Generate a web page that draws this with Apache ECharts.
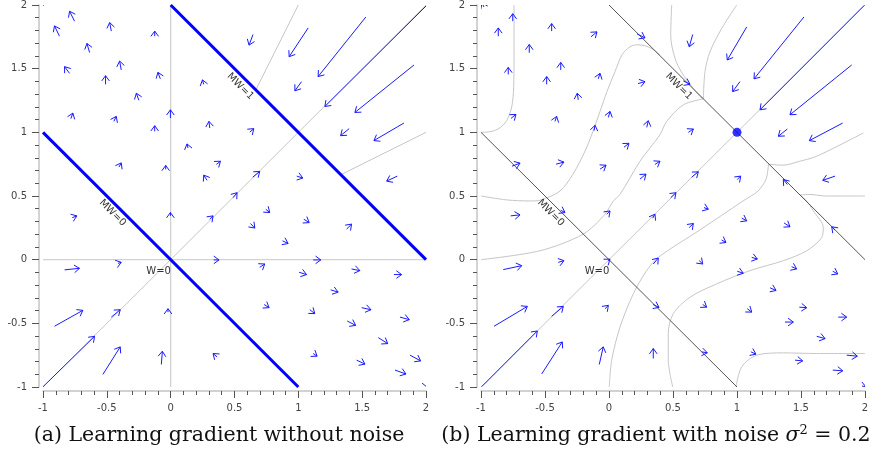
<!DOCTYPE html>
<html>
<head>
<meta charset="utf-8">
<script src="https://cdn.jsdelivr.net/npm/echarts@6/dist/echarts.min.js"></script>
<style>
  html, body { margin: 0; padding: 0; background: #fff; }
  #chart { width: 876px; height: 455px; }
</style>
</head>
<body>
<div id="chart"></div>
<script>
// Axis range shared by both panels
const AXIS_MIN = -1;
const AXIS_MAX = 2;
const TICK_STEP = 0.5;

// Gradient arrows without noise: [x0, y0, x1, y1] (tail -> tip)
const arrowsNoNoise = [
  [-0.753,1.873,-0.792,1.951], [-0.871,1.755,-0.910,1.836], [-0.465,1.795,-0.478,1.862],
  [-0.125,1.755,-0.125,1.795], [-0.635,1.627,-0.656,1.698], [-0.792,1.463,-0.831,1.516],
  [-0.387,1.490,-0.400,1.560], [-0.510,1.377,-0.510,1.445], [-0.081,1.420,-0.100,1.471],
  [-0.249,1.252,-0.269,1.307], [0.259,1.377,0.249,1.412], [-0.782,1.107,-0.766,1.151],
  [-0.445,1.086,-0.426,1.125], [-0.002,1.112,-0.002,1.177], [-0.125,1.008,-0.125,1.052],
  [0.306,1.034,0.300,1.086], [0.136,0.877,0.128,0.909], [-0.405,0.727,-0.387,0.760],
  [-0.039,0.709,-0.039,0.740], [0.285,0.623,0.259,0.664], [0.358,0.748,0.390,0.773],
  [0.645,1.768,0.614,1.685], [1.077,1.820,0.928,1.594], [1.529,1.906,1.155,1.438],
  [2.000,1.992,1.208,1.203], [1.025,1.398,0.973,1.326], [1.906,1.529,1.443,1.156],
  [1.398,1.029,1.331,0.974], [1.827,1.073,1.592,0.935], [1.775,0.656,1.692,0.617],
  [0.620,1.002,0.651,1.029], [0.643,0.648,0.698,0.693], [0.988,0.656,1.035,0.641],
  [0.489,0.487,0.520,0.526], [-0.771,0.330,-0.735,0.344], [-0.002,0.344,-0.002,0.370],
  [0.306,0.318,0.332,0.344], [-0.831,-0.080,-0.714,-0.068], [-0.413,-0.029,-0.387,-0.021],
  [0.337,-0.002,0.379,-0.002], [-0.910,-0.523,-0.688,-0.398], [-0.465,-0.451,-0.395,-0.393],
  [-0.021,-0.412,-0.021,-0.385], [-1.000,-0.998,-0.596,-0.602], [-0.531,-0.901,-0.395,-0.685],
  [-0.073,-0.823,-0.065,-0.719], [0.363,-0.763,0.332,-0.737], [0.745,0.396,0.776,0.370],
  [0.625,0.284,0.659,0.248], [1.043,0.318,1.085,0.291], [1.378,0.240,1.417,0.279],
  [0.876,0.148,0.920,0.127], [0.698,-0.060,0.737,-0.034], [1.116,-0.002,1.176,-0.002],
  [1.006,-0.099,1.064,-0.117], [1.417,-0.073,1.482,-0.086], [1.749,-0.117,1.809,-0.117],
  [1.253,-0.237,1.312,-0.255], [0.732,-0.352,0.771,-0.377], [1.090,-0.393,1.129,-0.424],
  [1.496,-0.377,1.569,-0.393], [1.383,-0.482,1.449,-0.516], [1.796,-0.451,1.869,-0.471],
  [1.626,-0.612,1.700,-0.659], [1.116,-0.737,1.147,-0.758], [1.456,-0.789,1.522,-0.820],
  [1.875,-0.750,1.958,-0.795], [1.757,-0.867,1.843,-0.898], [1.969,-0.969,2.016,-1.008],
  [-0.996,1.992,-1.020,2.020]
];

// Gradient arrows with noise sigma^2 = 0.2: [x0, y0, x1, y1]
const arrowsNoise = [
  [-0.977,1.984,-0.992,2.016], [-0.752,1.873,-0.752,1.932], [-0.865,1.755,-0.865,1.820],
  [-0.448,1.795,-0.448,1.854], [-0.141,1.750,-0.094,1.789], [-0.623,1.625,-0.623,1.690],
  [-0.787,1.455,-0.787,1.510], [-0.377,1.490,-0.377,1.549], [-0.487,1.377,-0.487,1.438],
  [-0.084,1.420,-0.070,1.463], [-0.240,1.255,-0.248,1.307], [0.227,1.383,0.281,1.398],
  [-0.766,1.109,-0.727,1.141], [-0.422,1.086,-0.409,1.125], [-0.005,1.117,0.008,1.164],
  [-0.117,1.013,-0.109,1.055], [0.295,1.039,0.307,1.091], [0.117,0.883,0.156,0.914],
  [-0.758,0.734,-0.695,0.758], [-0.414,0.750,-0.352,0.766], [-0.070,0.711,-0.023,0.742],
  [0.242,0.633,0.289,0.672], [0.359,0.748,0.398,0.773], [0.219,1.773,0.281,1.742],
  [0.654,1.768,0.627,1.672], [1.076,1.828,0.924,1.568], [1.523,1.906,1.133,1.420],
  [1.995,1.998,1.180,1.177], [1.023,1.398,0.966,1.320], [1.896,1.529,1.414,1.138],
  [1.393,1.026,1.323,0.969], [1.826,1.073,1.565,0.935], [1.766,0.656,1.670,0.623],
  [0.580,1.404,0.633,1.377], [0.620,1.000,0.659,1.026], [0.646,0.648,0.698,0.690],
  [1.002,0.630,1.029,0.656], [1.393,0.591,1.362,0.630], [0.482,0.487,0.523,0.526],
  [-0.768,0.344,-0.695,0.352], [-0.377,0.388,-0.344,0.370], [-0.018,0.357,0.008,0.383],
  [0.341,0.326,0.359,0.357], [-0.826,-0.078,-0.682,-0.047], [-0.396,-0.021,-0.352,-0.008],
  [-0.008,-0.008,0.008,0.004], [0.346,-0.034,0.385,0.013], [-0.898,-0.523,-0.638,-0.367],
  [-0.448,-0.445,-0.357,-0.367], [-0.031,-0.385,-0.005,-0.359], [0.344,-0.352,0.391,-0.375],
  [-0.995,-0.998,-0.560,-0.560], [-0.526,-0.898,-0.365,-0.646], [-0.076,-0.823,-0.045,-0.685],
  [0.346,-0.776,0.346,-0.698], [0.742,0.409,0.776,0.396], [0.627,0.252,0.659,0.284],
  [1.037,0.326,1.076,0.305], [1.367,0.289,1.414,0.258], [1.766,0.232,1.740,0.258],
  [0.880,0.154,0.914,0.135], [0.705,-0.008,0.732,-0.034], [1.115,0.018,1.159,0.005],
  [1.002,-0.091,1.049,-0.107], [1.427,-0.055,1.466,-0.073], [1.748,-0.091,1.787,-0.112],
  [1.258,-0.221,1.305,-0.242], [0.732,-0.352,0.763,-0.373], [1.080,-0.385,1.115,-0.412],
  [1.487,-0.373,1.545,-0.377], [1.375,-0.490,1.440,-0.490], [1.791,-0.451,1.857,-0.451],
  [1.623,-0.602,1.688,-0.620], [0.724,-0.724,0.768,-0.732], [1.109,-0.724,1.148,-0.742],
  [1.453,-0.789,1.513,-0.795], [1.857,-0.750,1.940,-0.758], [1.748,-0.867,1.826,-0.873],
  [1.977,-0.992,2.008,-1.000]
];

// Level sets MW = 0 and MW = 1
const lineMW0 = [[-1, 1], [1, -1]];
const lineMW1 = [[0, 2], [2, 0]];
// Diagonal W1 = W2
const diagonal = [[-1, -1], [2, 2]];
// Zero-component guides of the noiseless field
const guideVertical = [[0, -1], [0, 2]];
const guideHorizontal = [[-1, 0], [2, 0]];
const guideUpper = [[0.667, 1.333], [1, 2]];
const guideLower = [[1.333, 0.667], [2, 1]];

// Separatrix-like curves of the noisy field
const curveA = [[-0.742,2.0],[-0.742,1.6],[-0.745,1.35],[-0.76,1.2],[-0.80,1.09],[-0.86,1.03],[-0.93,1.005],[-1,1.0]];
const curveB = [[-1,0.5],[-0.797,0.469],[-0.617,0.461],[-0.531,0.469],[-0.383,0.539],[-0.281,0.672],[-0.1875,0.852],[-0.125,1.008],[-0.07,1.164],[-0.016,1.32],[0.047,1.477],[0.102,1.609],[0.164,1.672],[0.219,1.6875],[0.281,1.68],[0.336,1.656],[0.398,1.609]];
const curveC = [[0.490,2.0],[0.482,1.763],[0.516,1.58],[0.58,1.451],[0.711,1.281],[0.737,1.263]];
const curveD = [[0.998,2.0],[0.88,1.815],[0.789,1.633],[0.75,1.477],[0.737,1.263]];
const curveE = [[0.737,1.263],[0.58,1.216],[0.451,1.086],[0.398,0.982],[0.32,0.877],[0.242,0.773],[0.086,0.513],[0.034,0.461],[-0.031,0.357],[-0.201,0.201],[-0.539,0.07],[-1.0,0.0]];
const curveF = [[0.002,-1.0],[0.021,-0.789],[0.086,-0.529],[0.19,-0.268],[0.294,-0.086],[0.385,0.018],[0.711,0.234],[1.047,0.461],[1.164,0.539],[1.227,0.633],[1.246,0.75]];
const curveG = [[1.246,0.75],[1.362,0.742],[1.48,0.77],[1.623,0.8125],[1.987,0.995]];
const curveH = [[1.492,0.508],[1.544,0.461],[1.596,0.383],[1.674,0.252],[1.662,0.174],[1.545,0.07],[1.362,-0.008],[1.102,-0.086],[0.841,-0.19],[0.633,-0.295],[0.502,-0.424],[0.463,-0.58],[0.463,-0.789],[0.498,-1.0]];
const curveI = [[1.492,0.508],[1.57,0.512],[1.695,0.5],[2.0,0.5]];
const curveJ = [[0.992,-1.0],[1.037,-0.841],[1.154,-0.75],[1.362,-0.732],[1.623,-0.737],[2.0,-0.737]];

// Fixed point reached with noise
const fixedPoint = [[1, 1]];

// Line labels: [text, x, y, rotate]
const lineLabels = [
  ['MW=1', 0.545, 1.36, -45],
  ['MW=0', -0.455, 0.367, -45],
  ['W=0', -0.094, -0.094, 0]
];

const chart = echarts.init(document.getElementById('chart'), null, { renderer: 'canvas' });

function renderArrow(params, api) {
  const p0 = api.coord([api.value(0), api.value(1)]);
  const p1 = api.coord([api.value(2), api.value(3)]);
  const dx = p1[0] - p0[0], dy = p1[1] - p0[1];
  const len = Math.hypot(dx, dy) || 1;
  const ux = dx / len, uy = dy / len;
  const head = 6.5, ang = Math.PI / 5;
  const c = Math.cos(ang), s = Math.sin(ang);
  const a1 = [p1[0] - head * (ux * c - uy * s), p1[1] - head * (uy * c + ux * s)];
  const a2 = [p1[0] - head * (ux * c + uy * s), p1[1] - head * (uy * c - ux * s)];
  const st = { stroke: '#1a1aff', lineWidth: 1, fill: null };
  return {
    type: 'group',
    children: [
      { type: 'polyline', shape: { points: [p0, p1] }, style: st },
      { type: 'polyline', shape: { points: [a1, p1, a2] }, style: st }
    ]
  };
}

function axisPair(gridIndex) {
  const common = {
    type: 'value', gridIndex: gridIndex,
    min: AXIS_MIN, max: AXIS_MAX, interval: TICK_STEP,
    offset: 4,
    splitLine: { show: false },
    axisLine: { show: true, onZero: false, lineStyle: { color: '#c4c4c4', width: 1.5 } },
    axisTick: { show: true, length: 7, lineStyle: { color: '#555', width: 1 } },
    minorTick: { show: true, splitNumber: 5, length: 4, lineStyle: { color: '#555', width: 1 } },
    axisLabel: { color: '#444', fontSize: 10, fontFamily: 'DejaVu Sans', margin: 12 }
  };
  return {
    x: Object.assign({}, common, { position: 'bottom' }),
    y: Object.assign({}, common, { position: 'left' })
  };
}

const axL = axisPair(0), axR = axisPair(1);

function lineSeries(idx, data, color, width, z, smooth) {
  return {
    type: 'line', xAxisIndex: idx, yAxisIndex: idx, data: data,
    showSymbol: false, symbol: 'none', smooth: smooth || false,
    lineStyle: { color: color, width: width }, z: z, silent: true, clip: true
  };
}

function labelSeries(idx) {
  return lineLabels.map(function (l) {
    return {
      type: 'scatter', xAxisIndex: idx, yAxisIndex: idx,
      data: [[l[1], l[2]]], symbolSize: 1,
      itemStyle: { color: 'rgba(0,0,0,0)' }, z: 10, silent: true,
      label: {
        show: true, position: 'inside', formatter: l[0], rotate: l[3],
        color: '#333', opacity: 1, fontSize: 10, fontFamily: 'DejaVu Sans'
      }
    };
  });
}

const greyGuide = '#d2d2d2';
const greyCurve = '#c6c6c6';

const series = [
  // Left panel
  lineSeries(0, guideVertical, greyGuide, 1.3, 1),
  lineSeries(0, guideHorizontal, greyGuide, 1.3, 1),
  lineSeries(0, diagonal, greyCurve, 1, 1),
  lineSeries(0, guideUpper, greyCurve, 1, 1),
  lineSeries(0, guideLower, greyCurve, 1, 1),
  lineSeries(0, lineMW0, '#0000ff', 3, 3),
  lineSeries(0, lineMW1, '#0000ff', 3, 3),
  {
    type: 'custom', xAxisIndex: 0, yAxisIndex: 0, data: arrowsNoNoise,
    renderItem: renderArrow, clip: true, z: 5, silent: true,
    encode: { x: [0, 2], y: [1, 3] }
  },
  // Right panel
  lineSeries(1, diagonal, greyCurve, 1, 1),
  lineSeries(1, curveA, greyCurve, 1, 1, 0.3),
  lineSeries(1, curveB, greyCurve, 1, 1, 0.3),
  lineSeries(1, curveC, greyCurve, 1, 1, 0.3),
  lineSeries(1, curveD, greyCurve, 1, 1, 0.3),
  lineSeries(1, curveE, greyCurve, 1, 1, 0.3),
  lineSeries(1, curveF, greyCurve, 1, 1, 0.3),
  lineSeries(1, curveG, greyCurve, 1, 1, 0.3),
  lineSeries(1, curveH, greyCurve, 1, 1, 0.3),
  lineSeries(1, curveI, greyCurve, 1, 1, 0.3),
  lineSeries(1, curveJ, greyCurve, 1, 1, 0.3),
  lineSeries(1, lineMW0, '#555555', 1, 3),
  lineSeries(1, lineMW1, '#555555', 1, 3),
  {
    type: 'custom', xAxisIndex: 1, yAxisIndex: 1, data: arrowsNoise,
    renderItem: renderArrow, clip: true, z: 5, silent: true,
    encode: { x: [0, 2], y: [1, 3] }
  },
  {
    type: 'scatter', xAxisIndex: 1, yAxisIndex: 1, data: fixedPoint,
    symbol: 'circle', symbolSize: 9, itemStyle: { color: '#0000ff' }, z: 6, silent: true
  }
].concat(labelSeries(0), labelSeries(1));

chart.setOption({
  animation: false,
  backgroundColor: '#ffffff',
  grid: [
    { left: 43, top: 3, width: 383, height: 384 },
    { left: 481, top: 3, width: 384, height: 384 }
  ],
  xAxis: [axL.x, axR.x],
  yAxis: [axL.y, axR.y],
  series: series,
  graphic: [
    {
      type: 'text', x: 219, y: 436, silent: true,
      style: {
        text: '(a) Learning gradient without noise',
        fontFamily: 'DejaVu Serif', fontSize: 20.5, fill: '#111',
        textAlign: 'center', textVerticalAlign: 'middle'
      }
    },
    {
      type: 'text', x: 656, y: 436, silent: true,
      style: {
        text: '{t|(b) Learning gradient with noise }{s|σ}{p|2}{t| = 0.2}',
        textAlign: 'center', textVerticalAlign: 'middle',
        rich: {
          t: { fontFamily: 'DejaVu Serif', fontSize: 20.5, fill: '#111', lineHeight: 24 },
          s: { fontFamily: 'DejaVu Serif', fontStyle: 'italic', fontSize: 20.5, fill: '#111', lineHeight: 24 },
          p: { fontFamily: 'DejaVu Serif', fontSize: 13, fill: '#111', verticalAlign: 'top', lineHeight: 14 }
        }
      }
    }
  ]
});
</script>
</body>
</html>
